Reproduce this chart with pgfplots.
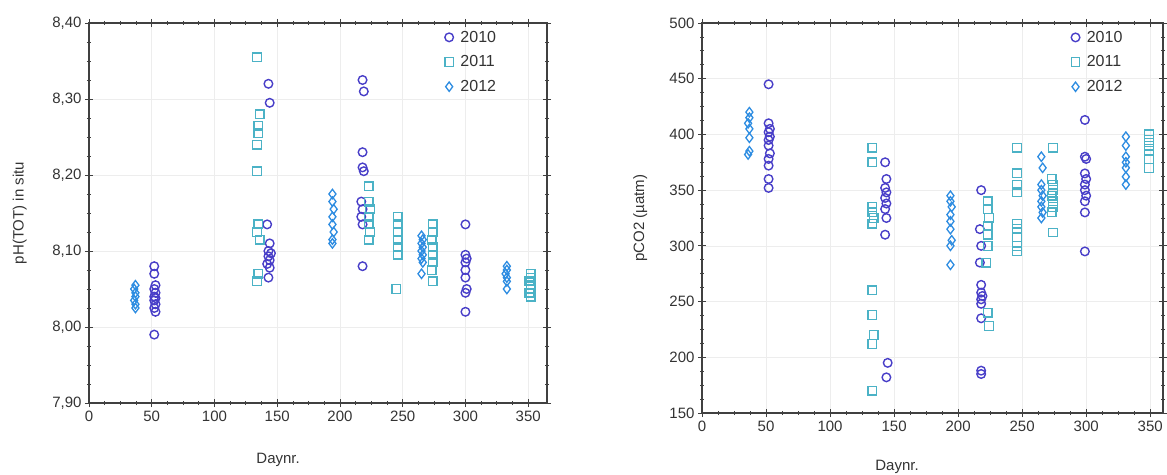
\documentclass[border=0pt]{standalone}
\usepackage{fontspec}
\setmainfont{Liberation Sans}
\usepackage{pgfplots}
\pgfplotsset{compat=1.18}
\definecolor{cA}{RGB}{72,62,200}
\definecolor{cB}{RGB}{75,178,198}
\definecolor{cC}{RGB}{45,140,225}
\pgfplotsset{mystyle/.style={
  scale only axis,
  axis line style={black!75, line width=1.2pt},
  tick style={black!75, line width=0.8pt},
  tick align=center, major tick length=8pt, minor tick length=4pt,
  minor tick num=3,
  xmin=0, xtick={0,50,...,350},
  grid=major, major grid style={black!7, line width=0.6pt},
  tick label style={font=\fontsize{15}{18}\selectfont, text=black!80},
  /pgf/number format/assume math mode=true,
  legend style={draw=none, fill=none, font=\fontsize{16}{19}\selectfont, text=black!80, row sep=8pt},
  legend cell align=left,
  only marks,
  s10/.style={mark=o, mark size=4.3pt, draw=cA, line width=1.4pt},
  s11/.style={mark=square, mark size=4.3pt, draw=cB, line width=1.3pt},
  s12/.style={mark=diamond, mark size=4.7pt, draw=cC, line width=1.3pt},
}}
\begin{document}
\begin{tikzpicture}
\path[use as bounding box] (0,0) rectangle (1167pt,474pt);
\begin{axis}[mystyle, at={(89pt,71pt)}, anchor=south west, width=458pt, height=380pt,
  xmax=365, ymin=7.9, ymax=8.4, ytick={7.9,8.0,8.1,8.2,8.3,8.4},
  yticklabel style={/pgf/number format/.cd, fixed, fixed zerofill, precision=2, use comma},
  xlabel={Daynr.}, ylabel={pH(TOT) in situ},
  every axis x label/.style={at={(axis description cs:0.413,-0.15)}, anchor=center, font=\fontsize{15}{18}\selectfont, text=black!80},
  every axis y label/.style={at={(axis description cs:-0.151,0.5)}, rotate=90, anchor=center, font=\fontsize{15}{18}\selectfont, text=black!80},
  legend style={at={(axis description cs:0.77,0.99)}, anchor=north west}]
\addplot[s10] coordinates {(52,8.08)(52,8.07)(53,8.055)(52,8.05)(53,8.045)(52,8.04)(53,8.038)(52,8.035)(53,8.03)(52,8.025)(53,8.02)(52,7.99)
(143,8.32)(144,8.295)(142,8.135)(144,8.11)(143,8.10)(145,8.097)(143,8.093)(144,8.088)(142,8.083)(144,8.078)(143,8.065)
(218,8.325)(219,8.31)(218,8.23)(218,8.21)(219,8.205)(217,8.165)(218,8.155)(217,8.145)(218,8.135)(218,8.08)
(300,8.135)(300,8.095)(301,8.09)(300,8.085)(300,8.075)(300,8.065)(301,8.05)(300,8.045)(300,8.02)};
\addlegendentry{\hspace{5pt}2010}
\addplot[s11] coordinates {(134,8.355)(136,8.28)(135,8.265)(135,8.255)(134,8.24)(134,8.205)(135,8.135)(134,8.125)(136,8.115)(135,8.07)(134,8.06)
(223,8.185)(223,8.165)(224,8.155)(223,8.145)(223,8.135)(224,8.125)(223,8.115)
(246,8.145)(246,8.135)(246,8.125)(246,8.115)(246,8.105)(246,8.095)(245,8.05)
(274,8.135)(274,8.125)(273,8.115)(274,8.105)(274,8.095)(274,8.085)(273,8.075)(274,8.06)
(352,8.07)(352,8.065)(351,8.06)(352,8.055)(352,8.05)(351,8.045)(352,8.04)};
\addlegendentry{\hspace{5pt}2011}
\addplot[s12] coordinates {(37,8.055)(36,8.05)(37,8.045)(37,8.04)(36,8.035)(37,8.03)(37,8.025)
(194,8.175)(194,8.165)(195,8.155)(194,8.145)(194,8.135)(195,8.125)(194,8.115)(194,8.11)
(265,8.12)(266,8.115)(265,8.11)(266,8.105)(265,8.10)(266,8.095)(265,8.09)(266,8.085)(265,8.07)
(333,8.08)(333,8.075)(332,8.07)(333,8.065)(333,8.06)(333,8.05)};
\addlegendentry{\hspace{5pt}2012}
\end{axis}
\begin{axis}[mystyle, at={(702pt,61pt)}, anchor=south west, width=461pt, height=390pt,
  xmax=360, ymin=150, ymax=500, ytick={150,200,...,500},
  xlabel={Daynr.}, ylabel={pCO2 (µatm)},
  every axis x label/.style={at={(axis description cs:0.423,-0.138)}, anchor=center, font=\fontsize{15}{18}\selectfont, text=black!80},
  every axis y label/.style={at={(axis description cs:-0.134,0.5)}, rotate=90, anchor=center, font=\fontsize{15}{18}\selectfont, text=black!80},
  legend style={at={(axis description cs:0.794,0.99)}, anchor=north west}]
\addplot[s10] coordinates {(52,445)(52,410)(53,405)(52,402)(53,398)(52,395)(52,390)(53,383)(52,378)(52,372)(52,360)(52,352)
(143,375)(144,360)(143,352)(144,348)(143,343)(144,338)(143,333)(144,325)(143,310)(145,195)(144,182)
(218,350)(217,315)(218,300)(217,285)(218,265)(218,258)(219,255)(218,252)(218,248)(218,235)(218,188)(218,185)
(299,413)(299,380)(300,378)(299,365)(300,360)(299,355)(299,350)(300,345)(299,340)(299,330)(299,295)};
\addlegendentry{\hspace{5pt}2010}
\addplot[s11] coordinates {(133,388)(133,375)(133,335)(133,330)(134,325)(133,320)(133,260)(133,238)(134,220)(133,212)(133,170)
(223,340)(223,333)(224,325)(223,318)(223,310)(223,300)(222,285)(223,240)(224,228)
(246,388)(246,365)(246,355)(246,348)(246,320)(246,315)(246,308)(246,300)(246,295)
(274,388)(273,360)(274,355)(274,350)(273,345)(274,340)(274,335)(273,330)(274,312)
(349,400)(349,395)(349,390)(349,385)(349,378)(349,370)};
\addlegendentry{\hspace{5pt}2011}
\addplot[s12] coordinates {(37,420)(37,415)(36,410)(37,405)(37,397)(37,385)(36,382)
(194,345)(194,340)(195,335)(194,328)(194,322)(194,315)(195,305)(194,300)(194,283)
(265,380)(266,370)(265,355)(265,350)(266,345)(265,340)(265,335)(266,330)(265,325)
(331,398)(331,390)(331,380)(331,375)(331,370)(331,362)(331,355)};
\addlegendentry{\hspace{5pt}2012}
\end{axis}
\end{tikzpicture}
\end{document}
